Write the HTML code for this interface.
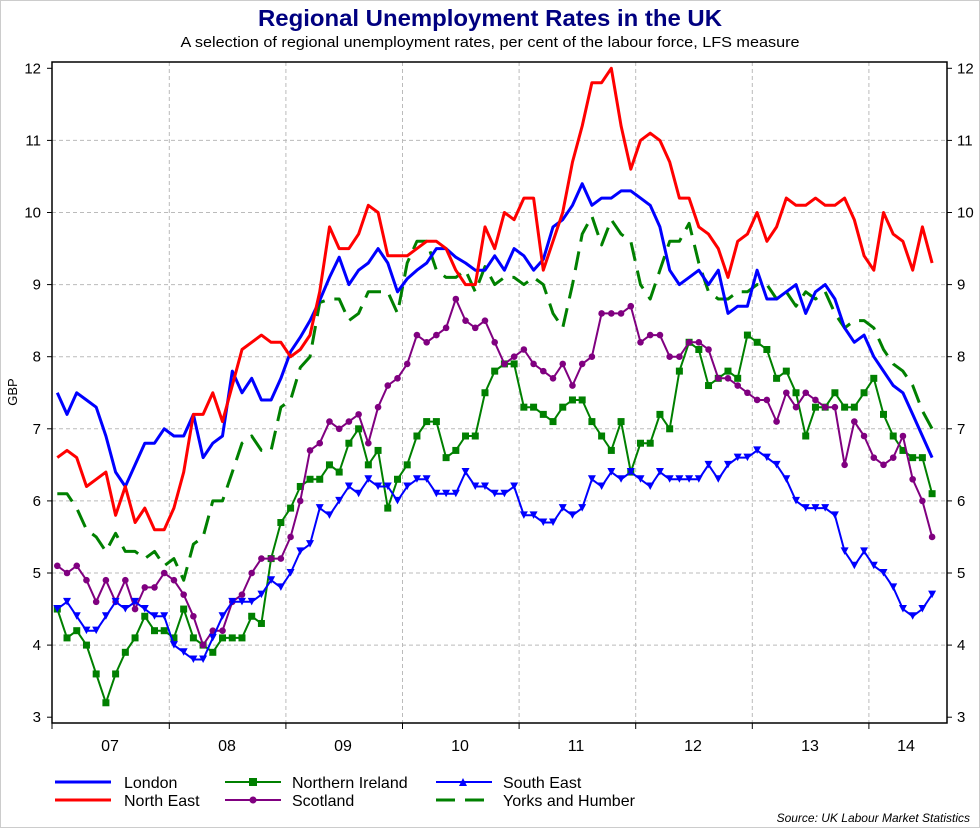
<!DOCTYPE html>
<html><head><meta charset="utf-8"><style>
body{margin:0;background:#fff;}
svg text{font-family:"Liberation Sans",Arial,sans-serif;}
</style></head><body>
<svg id="s" width="980" height="828" xmlns="http://www.w3.org/2000/svg">
<rect x="0" y="0" width="980" height="828" fill="#fff"/>
<rect x="0.5" y="0.5" width="979" height="827" fill="none" stroke="#ccc"/>
<text x="490" y="26" text-anchor="middle" font-size="23" font-weight="bold" fill="#000080" textLength="464" lengthAdjust="spacingAndGlyphs">Regional Unemployment Rates in the UK</text>
<text x="490" y="47" text-anchor="middle" font-size="15" fill="#000" textLength="619" lengthAdjust="spacingAndGlyphs">A selection of regional unemployment rates, per cent of the labour force, LFS measure</text>
<g id="grid"></g>
<g id="series"></g>
<rect x="52" y="62" width="895" height="661" fill="none" stroke="#000" stroke-width="1.5"/>
<text transform="translate(17,392) rotate(-90)" text-anchor="middle" font-size="13">GBP</text>
<g font-size="16" text-anchor="middle">
<text x="110" y="751">07</text><text x="227" y="751">08</text><text x="343" y="751">09</text><text x="460" y="751">10</text><text x="576" y="751">11</text><text x="693" y="751">12</text><text x="810" y="751">13</text><text x="906" y="751">14</text>
</g>
<g font-size="16">
<line x1="55" y1="782" x2="111" y2="782" stroke="#0000ff" stroke-width="3"/><text x="124" y="788">London</text>
<line x1="55" y1="800" x2="111" y2="800" stroke="#ff0000" stroke-width="3"/><text x="124" y="806">North East</text>
<line x1="225" y1="782" x2="281" y2="782" stroke="#008000" stroke-width="2"/><rect x="249" y="778" width="8" height="8" fill="#008000"/><text x="292" y="788">Northern Ireland</text>
<line x1="225" y1="800" x2="281" y2="800" stroke="#800080" stroke-width="2"/><circle cx="253" cy="800" r="3.5" fill="#800080"/><text x="292" y="806">Scotland</text>
<line x1="436" y1="782" x2="492" y2="782" stroke="#0000ff" stroke-width="2"/><path d="M459,786 L467,786 L463,778Z" fill="#0000ff"/><text x="503" y="788">South East</text>
<line x1="436" y1="800" x2="492" y2="800" stroke="#008000" stroke-width="3" stroke-dasharray="19,10"/><text x="503" y="806">Yorks and Humber</text>
</g>
<text x="970" y="822" text-anchor="end" font-size="12" font-style="italic">Source: UK Labour Market Statistics</text>
</svg>
<script>
var NS="http://www.w3.org/2000/svg";
function X(i){return 57.3+i*9.72;}
function Y(v){return 68.3+(12-v)*72.1;}
function el(t,a,p){var e=document.createElementNS(NS,t);for(var k in a)e.setAttribute(k,a[k]);p.appendChild(e);return e;}
var g=document.getElementById("grid");
var gx=[169.3,285.9,402.5,519.1,635.7,752.3,868.9];
gx.forEach(function(x){el("line",{x1:x,y1:62,x2:x,y2:723,stroke:"#bbb","stroke-dasharray":"4,3"},g);el("line",{x1:x,y1:723,x2:x,y2:729,stroke:"#000"},g);});
el("line",{x1:52,y1:723,x2:52,y2:729,stroke:"#000"},g);
for(var v=3;v<=12;v++){var y=Y(v);
 if(v>3&&v<12)el("line",{x1:52,y1:y,x2:947,y2:y,stroke:"#bbb","stroke-dasharray":"4,3"},g);
 el("line",{x1:47,y1:y,x2:52,y2:y,stroke:"#000"},g);el("line",{x1:947,y1:y,x2:952,y2:y,stroke:"#000"},g);
 var t=el("text",{x:41,y:y+5,"text-anchor":"end","font-size":"15"},g);t.textContent=v;
 t=el("text",{x:957,y:y+5,"font-size":"15"},g);t.textContent=v;}
var L=[7.5,7.2,7.5,7.4,7.3,6.9,6.4,6.2,6.5,6.8,6.8,7.0,6.9,6.9,7.2,6.6,6.8,6.9,7.8,7.5,7.7,7.4,7.4,7.7,8.07,8.27,8.5,8.78,9.1,9.38,9.0,9.2,9.3,9.5,9.3,8.9,9.08,9.2,9.3,9.5,9.5,9.38,9.3,9.2,9.2,9.4,9.2,9.5,9.4,9.2,9.35,9.8,9.9,10.1,10.4,10.1,10.2,10.2,10.3,10.3,10.2,10.1,9.8,9.2,9.0,9.1,9.2,9.0,9.2,8.6,8.7,8.7,9.2,8.8,8.8,8.9,9.0,8.6,8.9,9.0,8.8,8.4,8.2,8.3,8.0,7.8,7.6,7.5,7.2,6.9,6.6];
var NE=[6.6,6.7,6.6,6.2,6.3,6.4,5.8,6.2,5.7,5.9,5.6,5.6,5.9,6.4,7.2,7.2,7.5,7.1,7.6,8.1,8.2,8.3,8.2,8.2,8.0,8.1,8.3,8.9,9.8,9.5,9.5,9.7,10.1,10.0,9.4,9.4,9.4,9.5,9.6,9.6,9.5,9.2,9.0,9.0,9.8,9.5,10.0,9.9,10.2,10.2,9.2,9.6,10.0,10.7,11.2,11.8,11.8,12.0,11.2,10.6,11.0,11.1,11.0,10.7,10.2,10.2,9.8,9.7,9.5,9.1,9.6,9.7,10.0,9.6,9.8,10.2,10.1,10.1,10.2,10.1,10.1,10.2,9.9,9.4,9.2,10.0,9.7,9.6,9.2,9.8,9.3];
var YH=[6.1,6.1,5.9,5.6,5.5,5.3,5.55,5.3,5.3,5.2,5.3,5.1,5.2,4.9,5.4,5.5,6.0,6.0,6.4,6.8,6.9,6.7,6.7,7.3,7.4,7.85,8.0,8.75,8.8,8.8,8.5,8.6,8.9,8.9,8.9,8.6,9.3,9.6,9.6,9.2,9.1,9.1,9.2,8.9,9.25,9.0,9.1,9.1,9.0,9.1,9.0,8.6,8.4,9.0,9.7,9.95,9.55,9.9,9.7,9.6,9.0,8.8,9.2,9.6,9.6,9.85,9.3,8.9,8.8,8.8,8.9,8.9,9.0,9.0,8.8,8.9,8.7,8.9,8.8,8.9,8.6,8.4,8.5,8.5,8.4,8.1,7.9,7.8,7.6,7.25,7.0];
var SC=[5.1,5.0,5.1,4.9,4.6,4.9,4.6,4.9,4.5,4.8,4.8,5.0,4.9,4.7,4.4,4.0,4.2,4.2,4.6,4.7,5.0,5.2,5.2,5.2,5.5,6.0,6.7,6.8,7.1,7.0,7.1,7.2,6.8,7.3,7.6,7.7,7.9,8.3,8.2,8.3,8.4,8.8,8.5,8.4,8.5,8.2,7.9,8.0,8.1,7.9,7.8,7.7,7.9,7.6,7.9,8.0,8.6,8.6,8.6,8.7,8.2,8.3,8.3,8.0,8.0,8.2,8.2,8.1,7.7,7.7,7.6,7.5,7.4,7.4,7.1,7.5,7.3,7.5,7.4,7.3,7.3,6.5,7.1,6.9,6.6,6.5,6.6,6.9,6.3,6.0,5.5];
var NI=[4.5,4.1,4.2,4.0,3.6,3.2,3.6,3.9,4.1,4.4,4.2,4.2,4.1,4.5,4.1,4.0,3.9,4.1,4.1,4.1,4.4,4.3,5.2,5.7,5.9,6.2,6.3,6.3,6.5,6.4,6.8,7.0,6.5,6.7,5.9,6.3,6.5,6.9,7.1,7.1,6.6,6.7,6.9,6.9,7.5,7.8,7.9,7.9,7.3,7.3,7.2,7.1,7.3,7.4,7.4,7.1,6.9,6.7,7.1,6.4,6.8,6.8,7.2,7.0,7.8,8.2,8.1,7.6,7.7,7.8,7.7,8.3,8.2,8.1,7.7,7.8,7.5,6.9,7.3,7.3,7.5,7.3,7.3,7.5,7.7,7.2,6.9,6.7,6.6,6.6,6.1];
var SE=[4.5,4.6,4.4,4.2,4.2,4.4,4.6,4.5,4.6,4.5,4.4,4.4,4.0,3.9,3.8,3.8,4.1,4.4,4.6,4.6,4.6,4.7,4.9,4.8,5.0,5.3,5.4,5.9,5.8,6.0,6.2,6.1,6.3,6.2,6.2,6.0,6.2,6.3,6.3,6.1,6.1,6.1,6.4,6.2,6.2,6.1,6.1,6.2,5.8,5.8,5.7,5.7,5.9,5.8,5.9,6.3,6.2,6.4,6.3,6.4,6.3,6.2,6.4,6.3,6.3,6.3,6.3,6.5,6.3,6.5,6.6,6.6,6.7,6.6,6.5,6.3,6.0,5.9,5.9,5.9,5.8,5.3,5.1,5.3,5.1,5.0,4.8,4.5,4.4,4.5,4.7];
var S=document.getElementById("series");
function pts(a){return a.map(function(v,i){return X(i).toFixed(1)+","+Y(v).toFixed(1);}).join(" ");}
function line(a,c,w,d){var o={points:pts(a),fill:"none",stroke:c,"stroke-width":w,"stroke-linejoin":"round"};if(d)o["stroke-dasharray"]=d;el("polyline",o,S);}
line(YH,"#008000",3,"19,10");
line(NI,"#008000",2);
NI.forEach(function(v,i){el("rect",{x:X(i)-3.5,y:Y(v)-3.5,width:7,height:7,fill:"#008000"},S);});
line(SC,"#800080",2);
SC.forEach(function(v,i){el("circle",{cx:X(i),cy:Y(v),r:3.3,fill:"#800080"},S);});
line(SE,"#0000ff",2);
SE.forEach(function(v,i){var x=X(i),y=Y(v);el("path",{d:"M"+(x-4)+","+(y-4)+" L"+(x+4)+","+(y-4)+" L"+x+","+(y+3.5)+"Z",fill:"#0000ff"},S);});
line(L,"#0000ff",3);
line(NE,"#ff0000",3);
</script>
</body></html>
